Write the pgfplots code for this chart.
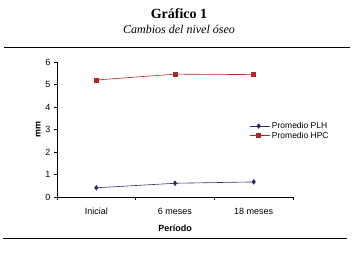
\documentclass[border=0pt]{standalone}
\usepackage{pgfplots}
\pgfplotsset{compat=1.18}
\usepackage{fontspec}
\setmainfont{Liberation Serif}
\newfontfamily\arial{Liberation Sans}
\definecolor{plh}{RGB}{45,45,110}
\definecolor{hpc}{RGB}{175,40,40}
\begin{document}
\begin{tikzpicture}[x=1pt,y=1pt]
\path[use as bounding box] (0,0) rectangle (358,256);
\node[font=\fontsize{14}{16}\selectfont\bfseries] at (179,242) {Gráfico 1};
\node[font=\fontsize{12}{14}\selectfont\itshape] at (179,227) {Cambios del nivel óseo};
\draw[line width=0.9pt] (4,209) -- (350,209);
\draw[line width=0.9pt] (3,18) -- (347,18);
\begin{axis}[
  at={(57pt,59pt)}, anchor=south west,
  scale only axis, width=236pt, height=135pt,
  axis lines*=left,
  xmin=-0.5, xmax=2.5, ymin=0, ymax=6,
  xtick={-0.5,0.5,1.5,2.5},
  x tick label as interval,
  xticklabels={Inicial,6 meses,18 meses},
  ytick={0,1,2,3,4,5,6},
  tick align=outside, major tick length=3pt,
  tick style={black, line width=0.6pt},
  axis line style={black, line width=0.8pt},
  /pgf/number format/assume math mode=true,
  tick label style={font=\arial\fontsize{9}{10}\selectfont},
  xticklabel style={text height=7pt, text depth=1pt, yshift=-4pt},
  xlabel={Período}, ylabel={mm},
  label style={font=\arial\bfseries\fontsize{9}{10}\selectfont},
  xlabel style={at={(axis description cs:0.5,-0.23)}, anchor=center},
  ylabel style={at={(axis description cs:-0.08,0.5)}, anchor=center},
  legend style={draw=none, fill=none, at={(axis description cs:0.81,0.49)}, anchor=west,
    font=\arial\fontsize{8.5}{9}\selectfont, row sep=-2pt, inner sep=1pt},
  legend cell align=left,
  legend image code/.code={\draw[#1] (0pt,0pt) -- (20pt,0pt); \draw[#1, only marks] plot coordinates {(9pt,0pt)};},
  clip=false,
]
\addplot[plh, line width=0.6pt, mark=diamond*, mark size=2.3pt, mark options={fill=plh}] coordinates {(0,0.41) (1,0.61) (2,0.67)};
\addlegendentry{Promedio PLH}
\addplot[hpc, line width=0.6pt, mark=square*, mark size=2pt, mark options={fill=hpc}] coordinates {(0,5.2) (1,5.46) (2,5.44)};
\addlegendentry{Promedio HPC}
\end{axis}
\end{tikzpicture}
\end{document}
